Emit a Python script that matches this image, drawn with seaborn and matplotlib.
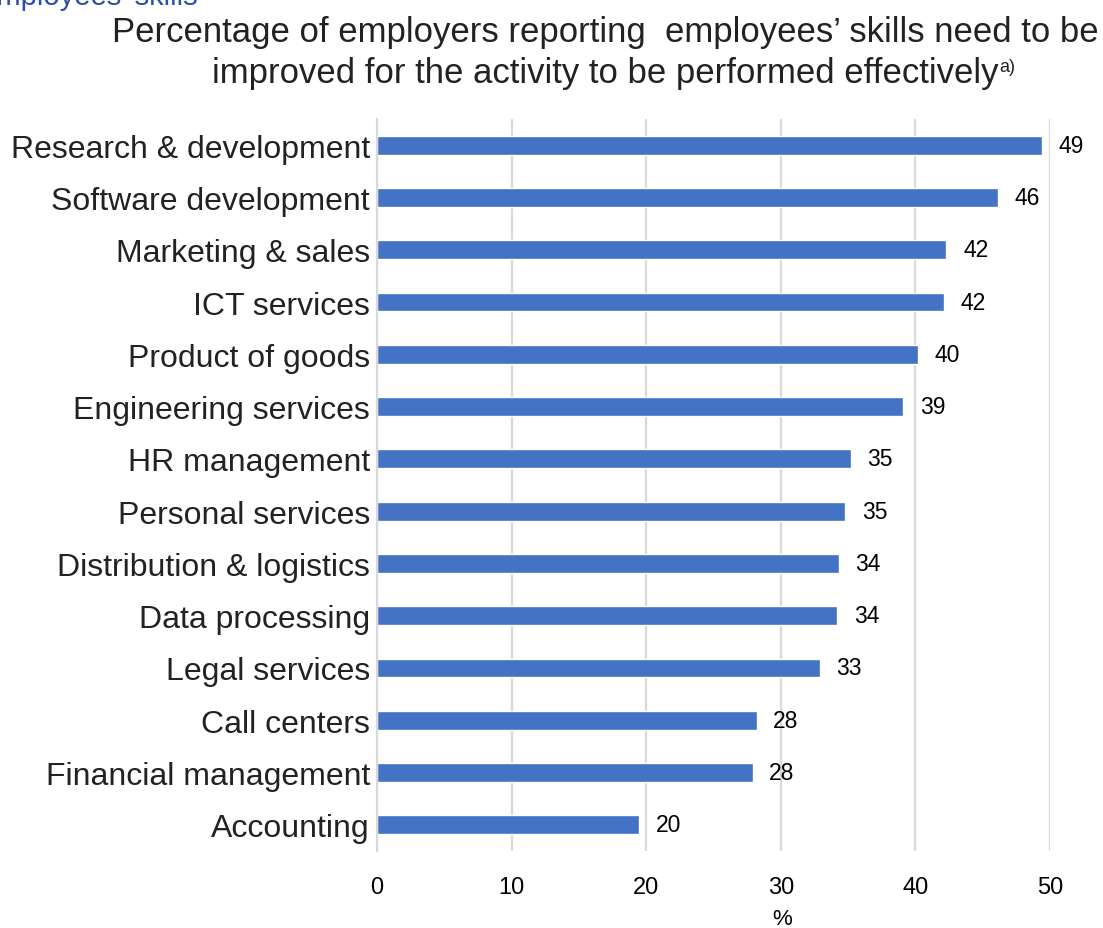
import matplotlib
matplotlib.use("Agg")
import matplotlib.pyplot as plt
import seaborn as sns
import pandas as pd

# Activities and share of employers (%) reporting skills need improving
activities = [
    "Research & development",
    "Software development",
    "Marketing & sales",
    "ICT services",
    "Product of goods",
    "Engineering services",
    "HR management",
    "Personal services",
    "Distribution & logistics",
    "Data processing",
    "Legal services",
    "Call centers",
    "Financial management",
    "Accounting",
]
shares = [49.4, 46.1, 42.3, 42.1, 40.2, 39.1, 35.2, 34.8, 34.3, 34.2, 32.9, 28.2, 27.9, 19.5]
x_ticks = [0, 10, 20, 30, 40, 50]

df = pd.DataFrame({"activity": activities, "share": shares})

sns.set_theme(style="white")
plt.rcParams["font.family"] = ["Liberation Sans", "DejaVu Sans"]

TEXT = "#222222"
GRID = "#d9d9d9"
BAR = "#4472c4"

fig = plt.figure(figsize=(11.03, 9.29), dpi=100)
ax = fig.add_axes([0.3418, 0.0829, 0.6102, 0.7879])

sns.barplot(data=df, x="share", y="activity", orient="h", color=BAR,
            width=0.36, saturation=1, ax=ax)

ax.set_xlim(0, 50)
ax.set_xticks(x_ticks)
ax.set_xticklabels([str(t) for t in x_ticks], fontsize=17, color="black")
ax.xaxis.grid(True, color=GRID, linewidth=1.6)
ax.set_axisbelow(True)
ax.tick_params(axis="x", length=0, pad=18)
ax.tick_params(axis="y", length=0, pad=5, labelsize=23, labelcolor=TEXT)
ax.set_ylabel("")
ax.set_xlabel("%", fontsize=16, color="black")
ax.xaxis.set_label_coords(0.602, -0.078)

for side in ["top", "right", "bottom"]:
    ax.spines[side].set_visible(False)
ax.spines["left"].set_color(GRID)
ax.spines["left"].set_linewidth(1.6)

# Value labels at the end of each bar
for container in ax.containers:
    ax.bar_label(container, labels=[f"{v:.0f}" for v in container.datavalues],
                 padding=12, fontsize=16.5, color="black")

# Heading fragment and chart title
fig.text(-0.021, 1 - 5 / 929, "Employees’ skills", fontsize=21, color="#2f4ea3",
         ha="left", va="baseline")
fig.text(0.5485, 1 - 42 / 929,
         "Percentage of employers reporting  employees’ skills need to be",
         fontsize=25, color=TEXT, ha="center", va="baseline")
line2 = fig.text(0.5485, 1 - 83 / 929,
                 "improved for the activity to be performed effectively",
                 fontsize=25, color=TEXT, ha="center", va="baseline")
fig.canvas.draw()
bb = line2.get_window_extent()
fig.text(bb.x1 / fig.bbox.width + 0.001, 1 - 72 / 929, "a)", fontsize=13,
         color=TEXT, ha="left", va="baseline")

fig.savefig("out.png", dpi=100)
